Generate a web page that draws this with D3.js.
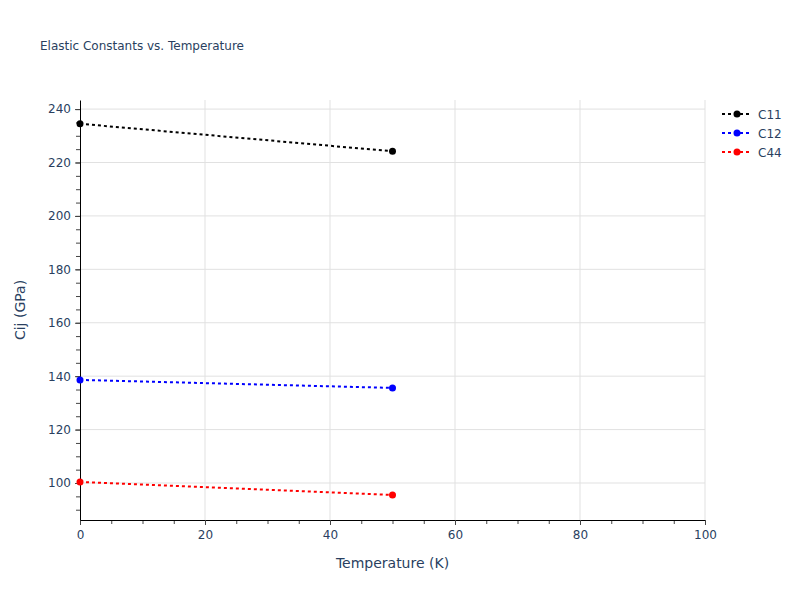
<!DOCTYPE html>
<html>
<head>
<meta charset="utf-8">
<script src="https://cdn.jsdelivr.net/npm/d3@7"></script>
<style>
body { margin: 0; background: #fff; }
svg { font-family: "DejaVu Sans", Verdana, sans-serif; }
</style>
</head>
<body>
<div id="chart"></div>
<script>
var temps = [0, 50]
var c11 = [234.5, 224.2]
var c12 = [138.6, 135.6]
var c44 = [100.4, 95.5]
var seriesNames = ["C11", "C12", "C44"]
var seriesColors = ["black", "blue", "red"]
var xTicks = [0, 20, 40, 60, 80, 100]
var yTicks = [100, 120, 140, 160, 180, 200, 220, 240]

t()
function t() {
  var svg = d3.select("#chart").append("svg")
    .attr("width", 800).attr("height", 600)
  var margin = { top: 100, right: 95, bottom: 80, left: 80 }
  var width = 800 - margin.left - margin.right
  var height = 600 - margin.top - margin.bottom
  var x = d3.scaleLinear().domain([0, 100]).range([0, width])
  var y = d3.scaleLinear().domain([86.15, 243.4]).range([height, 0])
  var txt = "#2a3f5f"
  var font = "'DejaVu Sans', Verdana, sans-serif"

  svg.append("text").text("Elastic Constants vs. Temperature")
    .attr("x", 40).attr("y", 50)
    .attr("fill", txt).style("font-size", "12px")

  var g = svg.append("g")
    .attr("transform", "translate(" + margin.left + "," + margin.top + ")")

  // grid
  g.append("g").selectAll("line").data(xTicks.filter(d => d > 0)).enter().append("line")
    .attr("x1", d => x(d)).attr("x2", d => x(d)).attr("y1", 0).attr("y2", height)
    .attr("stroke", "#e1e1e1")
  g.append("g").selectAll("line").data(yTicks).enter().append("line")
    .attr("y1", d => y(d)).attr("y2", d => y(d)).attr("x1", 0).attr("x2", width)
    .attr("stroke", "#e1e1e1")

  // minor ticks
  var xMinor = d3.range(0, 101, 5)
  var yMinor = d3.range(90, 241, 5)
  g.append("g")
    .attr("transform", "translate(0," + height + ")")
    .call(d3.axisBottom(x).tickValues(xMinor).tickSize(4).tickFormat(""))
    .call(a => a.select(".domain").remove())
    .call(a => a.selectAll("line").attr("stroke", "#444"))
  g.append("g")
    .call(d3.axisLeft(y).tickValues(yMinor).tickSize(4).tickFormat(""))
    .call(a => a.select(".domain").remove())
    .call(a => a.selectAll("line").attr("stroke", "#444"))

  // major axes
  g.append("g")
    .attr("transform", "translate(0," + height + ")")
    .call(d3.axisBottom(x).tickValues(xTicks).tickSize(5).tickSizeOuter(0).tickPadding(5))
    .call(a => {
      a.select(".domain").attr("stroke", "#000")
      a.selectAll("line").attr("stroke", "#444")
      a.selectAll("text").attr("fill", txt).style("font-size", "12px")
        .style("font-family", font)
    })
  g.append("g")
    .call(d3.axisLeft(y).tickValues(yTicks).tickSize(5).tickSizeOuter(0).tickPadding(4))
    .call(a => {
      a.select(".domain").attr("stroke", "#000")
      a.selectAll("line").attr("stroke", "#444")
      a.selectAll("text").attr("fill", txt).style("font-size", "12px")
        .style("font-family", font)
    })

  svg.append("text").text("Temperature (K)")
    .attr("x", margin.left + width / 2).attr("y", 568)
    .attr("text-anchor", "middle").attr("fill", txt).style("font-size", "14px")
  svg.append("text").text("Cij (GPa)")
    .attr("transform", "translate(25," + (margin.top + height / 2) + ") rotate(-90)")
    .attr("text-anchor", "middle").attr("fill", txt).style("font-size", "14px")

  var data = [c11, c12, c44].map((vals, i) => ({
    name: seriesNames[i], color: seriesColors[i],
    points: vals.map((v, j) => ({ t: temps[j], v: v }))
  }))

  var line = d3.line().x(d => x(d.t)).y(d => y(d.v))
  var s = g.append("g").selectAll("g").data(data).enter().append("g")
  s.append("path")
    .attr("d", d => line(d.points))
    .attr("fill", "none").attr("stroke", d => d.color)
    .attr("stroke-width", 2).attr("stroke-dasharray", "3,3")
  s.selectAll("circle").data(d => d.points.map(p => ({ p: p, c: d.color }))).enter()
    .append("circle")
    .attr("cx", d => x(d.p.t)).attr("cy", d => y(d.p.v))
    .attr("r", 3.5).attr("fill", d => d.c)

  // legend
  var leg = svg.append("g").attr("transform", "translate(722,114)")
  var item = leg.selectAll("g").data(data).enter().append("g")
    .attr("transform", (d, i) => "translate(0," + i * 19 + ")")
  item.append("line").attr("x1", 0).attr("x2", 30)
    .attr("stroke", d => d.color).attr("stroke-width", 2).attr("stroke-dasharray", "3,3")
  item.append("circle").attr("cx", 15).attr("r", 3.5).attr("fill", d => d.color)
  item.append("text").text(d => d.name).attr("x", 36).attr("y", 4.5)
    .attr("fill", txt).style("font-size", "12px")
}
</script>
</body>
</html>
